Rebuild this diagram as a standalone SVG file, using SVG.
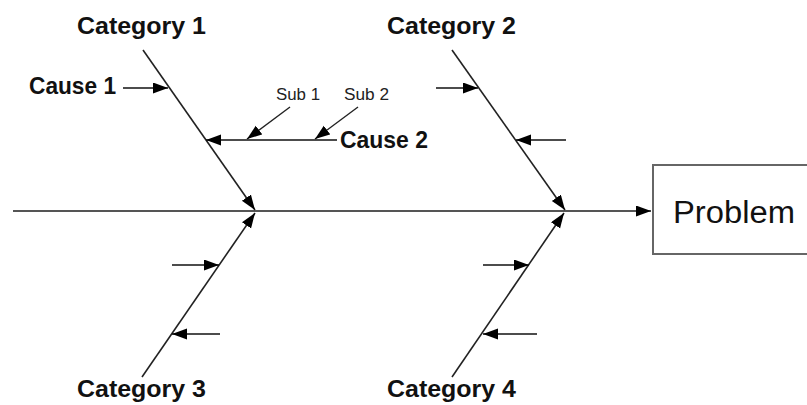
<svg xmlns="http://www.w3.org/2000/svg" width="807" height="405" viewBox="0 0 807 405">
<style>
.bone{stroke:#222;stroke-width:1.6;fill:none}
.spine{stroke:#555;stroke-width:2.2;fill:none}
.cause{stroke:#111;stroke-width:1.6;fill:none}
.sub{stroke:#222;stroke-width:1.4;fill:none}
.cat{font-family:"Liberation Sans",Arial,sans-serif;font-weight:bold;font-size:24px;fill:#111}
.small{font-family:"Liberation Sans",Arial,sans-serif;font-size:16px;fill:#222}
.prob{font-family:"Liberation Sans",Arial,sans-serif;font-size:31px;fill:#111}
</style>
<defs>
<marker id="ah" markerUnits="userSpaceOnUse" markerWidth="16" markerHeight="12" refX="15" refY="5.5" orient="auto">
<path d="M0,0 L15,5.5 L0,11 z" fill="#000"/>
</marker>
</defs>
<g id="problem">
<rect x="653" y="165" width="170" height="89" fill="#fff" stroke="#666" stroke-width="2"/>
<text class="prob" x="673" y="223" textLength="122" lengthAdjust="spacingAndGlyphs">Problem</text>
</g>
<g id="category1"><text class="cat" x="77" y="34" textLength="129" lengthAdjust="spacingAndGlyphs">Category 1</text></g>
<g id="category2"><text class="cat" x="387" y="34" textLength="129" lengthAdjust="spacingAndGlyphs">Category 2</text></g>
<g id="category3"><text class="cat" x="77" y="397" textLength="129" lengthAdjust="spacingAndGlyphs">Category 3</text></g>
<g id="category4"><text class="cat" x="387" y="397" textLength="129" lengthAdjust="spacingAndGlyphs">Category 4</text></g>
<g id="cause1"><text class="cat" x="29" y="94" textLength="87" lengthAdjust="spacingAndGlyphs">Cause 1</text></g>
<g id="cause2"><text class="cat" x="340" y="148" textLength="88" lengthAdjust="spacingAndGlyphs">Cause 2</text></g>
<g id="sub1"><text class="small" x="276" y="100" textLength="44" lengthAdjust="spacingAndGlyphs">Sub 1</text></g>
<g id="sub2"><text class="small" x="344" y="100" textLength="45" lengthAdjust="spacingAndGlyphs">Sub 2</text></g>
<g id="connectors">
<line class="spine" x1="13" y1="211" x2="651" y2="211" marker-end="url(#ah)"/>
<line class="bone" x1="143" y1="50" x2="255" y2="210" marker-end="url(#ah)"/>
<line class="bone" x1="452" y1="50" x2="565" y2="210" marker-end="url(#ah)"/>
<line class="bone" x1="142" y1="377" x2="255" y2="213" marker-end="url(#ah)"/>
<line class="bone" x1="452" y1="377" x2="564" y2="213" marker-end="url(#ah)"/>
<line class="cause" x1="123" y1="88" x2="168" y2="88" marker-end="url(#ah)"/>
<line class="cause" x1="337" y1="140" x2="206" y2="140" marker-end="url(#ah)"/>
<line class="sub" x1="290" y1="107" x2="247" y2="139" marker-end="url(#ah)"/>
<line class="sub" x1="358" y1="107" x2="315" y2="139" marker-end="url(#ah)"/>
<line class="cause" x1="436" y1="88" x2="478" y2="88" marker-end="url(#ah)"/>
<line class="cause" x1="566" y1="140" x2="516" y2="140" marker-end="url(#ah)"/>
<line class="cause" x1="172" y1="265" x2="219" y2="265" marker-end="url(#ah)"/>
<line class="cause" x1="220" y1="334" x2="172" y2="334" marker-end="url(#ah)"/>
<line class="cause" x1="483" y1="265" x2="529" y2="265" marker-end="url(#ah)"/>
<line class="cause" x1="537" y1="334" x2="483" y2="334" marker-end="url(#ah)"/>
</g>
</svg>
